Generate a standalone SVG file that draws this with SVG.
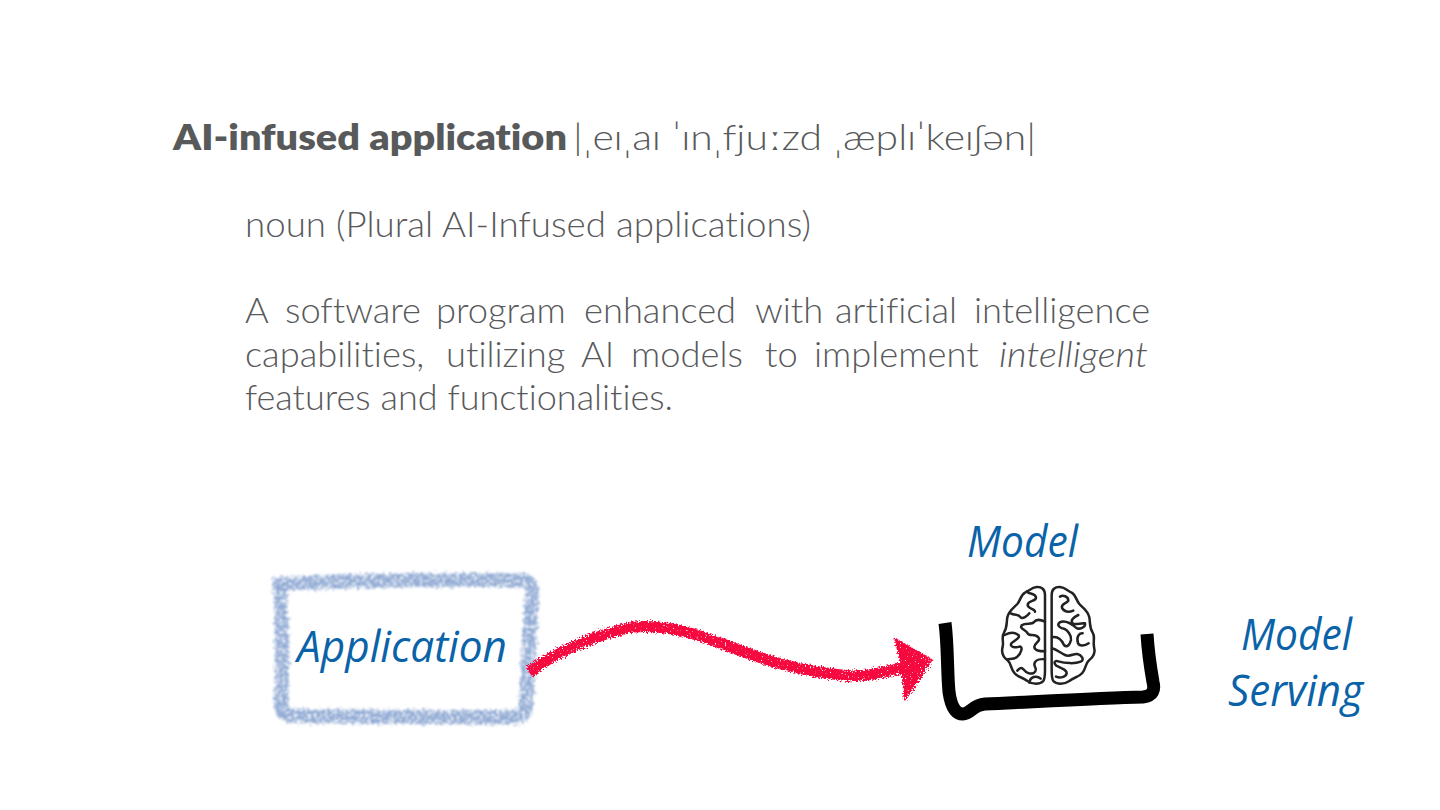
<svg xmlns="http://www.w3.org/2000/svg" width="1440" height="810" viewBox="0 0 1440 810">
<style>
text{font-family:"Lato","Noto Sans",sans-serif;fill:#58595b;font-variant-ligatures:none}
.b{font-weight:300;font-size:36.3px}
.h{font-weight:800;font-size:36px}
.p{font-weight:300;font-size:35px}
.hand{font-family:"Open Sans","Liberation Sans",sans-serif;font-style:italic;fill:#0a63a8;font-size:44px}
.brain{fill:none;stroke:#222;stroke-width:7.5;stroke-linejoin:round;stroke-linecap:round}
</style>
<defs>
<filter id="crayonB" x="-10%" y="-10%" width="120%" height="120%" color-interpolation-filters="sRGB">
<feTurbulence type="fractalNoise" baseFrequency="0.4" numOctaves="2" seed="4" result="n"/>
<feDisplacementMap in="SourceGraphic" in2="n" scale="9" result="d"/>
<feTurbulence type="fractalNoise" baseFrequency="0.35" numOctaves="3" seed="11" result="g"/>
<feColorMatrix in="g" type="matrix" values="0 0 0 0 0 0 0 0 0 0 0 0 0 0 0 3.5 0 0 0 -0.9" result="m"/>
<feComposite in="d" in2="m" operator="in"/>
<feGaussianBlur stdDeviation="0.8"/>
</filter>
<filter id="crayonR" x="-10%" y="-20%" width="120%" height="140%" color-interpolation-filters="sRGB">
<feTurbulence type="fractalNoise" baseFrequency="0.6" numOctaves="3" seed="7" result="n"/>
<feDisplacementMap in="SourceGraphic" in2="n" scale="7" result="d"/>
<feTurbulence type="fractalNoise" baseFrequency="0.6" numOctaves="2" seed="3" result="g"/>
<feColorMatrix in="g" type="matrix" values="0 0 0 0 0 0 0 0 0 0 0 0 0 0 0 8 0 0 0 -1.6" result="m"/>
<feComposite in="d" in2="m" operator="in"/>
<feGaussianBlur stdDeviation="0.25"/>
</filter>
</defs>
<g id="definition">
<text class="h" x="173" y="150" textLength="394" lengthAdjust="spacingAndGlyphs">AI-infused application</text>
<text class="p" x="573" y="150" textLength="463" lengthAdjust="spacingAndGlyphs">|ˌeɪˌaɪ ˈɪnˌfjuːzd ˌæplɪˈkeɪʃən|</text>
<text class="b" x="245" y="237" textLength="566" lengthAdjust="spacingAndGlyphs">noun (Plural AI-Infused applications)</text>
<text class="b" y="323"><tspan x="245">A</tspan><tspan x="285">software</tspan><tspan x="436">program</tspan><tspan x="584">enhanced</tspan><tspan x="755">with</tspan><tspan x="835">artificial</tspan><tspan x="974">intelligence</tspan></text>
<text class="b" y="367"><tspan x="245">capabilities,</tspan><tspan x="446">utilizing</tspan><tspan x="581">AI</tspan><tspan x="631">models</tspan><tspan x="765">to</tspan><tspan x="814">implement</tspan></text>
<text class="b" x="999" y="367" font-style="italic" textLength="149" lengthAdjust="spacingAndGlyphs">intelligent</text>
<text class="b" x="245" y="410" textLength="428" lengthAdjust="spacingAndGlyphs">features and functionalities.</text>
</g>
<g id="application">
<path d="M280 584C340 581 470 578 525 581Q533 583 532 594C530 640 527 680 526 708Q524 716 515 717C440 718 340 716 290 716Q281 714 281 706C283 660 282 620 280 584Z" fill="none" stroke="#8fa9d3" stroke-width="14" filter="url(#crayonB)"/>
<text class="hand" x="297" y="662" textLength="210" lengthAdjust="spacingAndGlyphs">Application</text>
</g>
<g id="connectors">
<path d="M529 672C553 655 587 637 633 627C670 624 700 636 720 643C770 662 800 672 853 676C870 676 885 672 905 667" fill="none" stroke="#f5093f" stroke-width="11" filter="url(#crayonR)"/>
<path d="M896 640L931 660L905 699L903 668Z" fill="#f5093f" stroke="#f5093f" stroke-width="3" stroke-linejoin="round" filter="url(#crayonR)"/>
</g>
<g id="model">
<text class="hand" x="967" y="557" textLength="111" lengthAdjust="spacingAndGlyphs">Model</text>
<g transform="translate(990 580) scale(.3333)" class="brain">
<path d="M165 45C165 28 155 20 140 21C125 22 118 32 105 38C92 45 92 60 82 72C70 85 56 92 52 112C49 130 52 142 42 158C33 172 42 185 38 200C33 218 40 232 54 242C64 250 62 268 74 280C84 292 100 292 112 303C128 314 150 314 160 303C165 296 165 285 165 270Z"/>
<path d="M110 34C120 45 135 38 138 52C140 65 115 60 113 74C112 88 135 85 135 95"/>
<path d="M165 125C150 118 138 118 132 126C125 136 108 126 95 136C88 146 108 150 113 160C118 170 135 160 145 172C155 182 135 188 133 200C132 212 150 214 165 214"/>
<path d="M62 100C75 108 85 100 92 112C98 118 112 108 118 100"/>
<path d="M44 165C58 158 72 155 84 164C95 172 72 182 64 190C58 200 75 205 88 200C100 198 95 220 80 232C70 240 55 235 52 238"/>
<path d="M165 238C150 236 135 240 133 252C132 262 145 268 132 278C122 285 108 278 100 268C95 260 88 265 82 272"/>
<path d="M118 308C120 290 140 285 152 296"/>
<path d="M185 45C185 28 195 20 210 21C225 22 232 32 245 38C258 45 258 60 268 72C280 85 294 92 298 112C301 130 298 142 308 158C317 172 308 185 312 200C317 218 310 232 296 242C286 250 288 268 276 280C266 292 250 292 238 303C222 314 200 314 190 303C185 296 185 285 185 270Z"/>
<path d="M210 50C218 45 235 48 235 62C228 72 212 70 216 84C225 98 240 96 250 92"/>
<path d="M265 105C250 112 240 122 248 130C258 136 272 128 285 130C288 142 268 150 258 143C245 132 225 118 208 128C200 136 210 145 222 146C232 150 245 165 243 180C240 192 232 205 222 195C215 180 205 168 186 172"/>
<path d="M278 160C268 158 258 170 264 190C268 200 285 198 296 190"/>
<path d="M186 205C200 208 210 218 225 225C240 232 250 220 262 222C275 225 285 240 272 245C255 252 225 250 205 244C192 240 190 250 200 258C215 265 230 268 230 280C228 292 210 295 198 290"/>
</g>
<path d="M945 623C948 645 947 670 949 692C951 706 955 714 963 714C971 714 972 705 985 704C1030 702 1100 698 1143 697C1153 696 1155 690 1153 682C1150 665 1148 650 1147 634" fill="none" stroke="#000" stroke-width="13"/>
</g>
<g id="model-serving">
<text class="hand" x="1241" y="650" textLength="111" lengthAdjust="spacingAndGlyphs">Model</text>
<text class="hand" x="1228" y="706" textLength="135" lengthAdjust="spacingAndGlyphs">Serving</text>
</g>
</svg>
